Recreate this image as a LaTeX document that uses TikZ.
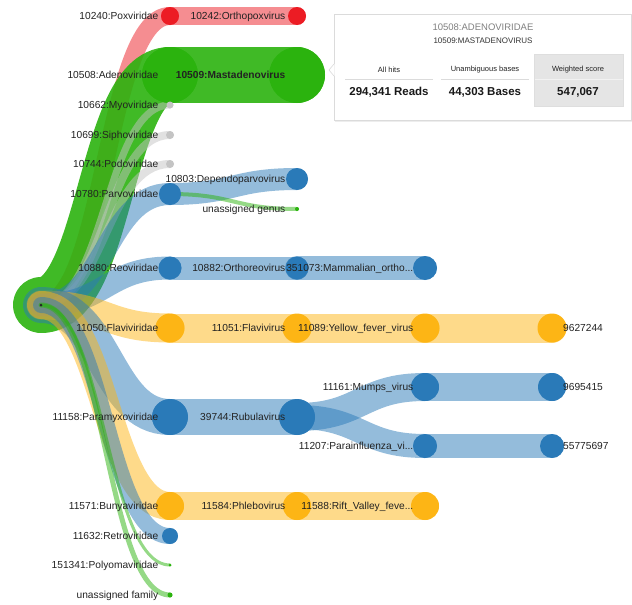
\documentclass[tikz,border=0pt]{standalone}
\usepackage{fontspec}
\setmainfont{Liberation Sans}
\usetikzlibrary{calc}
\pgfdeclarelayer{background}
\pgfsetlayers{background,main}
\definecolor{cred}{HTML}{EC1C24}
\definecolor{cgreen}{HTML}{2BB30E}
\definecolor{cblue}{HTML}{2A7AB8}
\definecolor{corange}{HTML}{FDB515}
\definecolor{cgrey}{HTML}{C4C4C4}
\definecolor{ctxt}{HTML}{222222}
\tikzset{
 dot/.style={circle,inner sep=0pt,draw=none},
 lbl/.style={inner sep=0pt,text=ctxt,font=\fontsize{10.2}{12}\selectfont},
 lk/.style={line cap=round,opacity=0.5,draw=#1},
 hl/.style={line cap=round,opacity=0.9,draw=cgreen},
 diag/.style={to path={let \p1=(\tikztostart),\p2=(\tikztotarget) in
   .. controls ({0.5*\x1+0.5*\x2},\y1) and ({0.5*\x1+0.5*\x2},\y2) .. (\tikztotarget)}},
 tiphead/.style={inner sep=0pt,text=ctxt,font=\fontsize{7.5}{9}\selectfont},
 tipval/.style={inner sep=0pt,text=black!90,font=\fontsize{11.5}{13}\selectfont\bfseries},
}
% name, x, y, radius, colour, label
\newcommand\vn[6]{%
 \node[dot,fill=#5,minimum size=#4*2pt] (#1) at (#2,#3) {};
 \node[lbl,anchor=base east] (#1L) at ([xshift=-11.5pt,yshift=-3.6pt]#1.center) {#6};}
\newcommand\vnR[6]{%
 \node[dot,fill=#5,minimum size=#4*2pt] (#1) at (#2,#3) {};
 \node[lbl,anchor=base west] (#1L) at ([xshift=11pt,yshift=-3.6pt]#1.center) {#6};}
\begin{document}
\begin{tikzpicture}[x=1pt,y=-1pt]
\useasboundingbox (0,0) rectangle (632,605);
% root
\node[dot,fill=black!85,minimum size=3pt] (root) at (41,305) {};
% level 1
\vn{pox}{170}{16}{9}{cred}{10240:Poxviridae}
\vn{adeno}{170}{75}{28}{cgreen}{10508:Adenoviridae}
\vn{myo}{170}{105}{3.5}{cgrey}{10662:Myoviridae}
\vn{sipho}{170}{135}{4}{cgrey}{10699:Siphoviridae}
\vn{podo}{170}{164}{4}{cgrey}{10744:Podoviridae}
\vn{parvo}{170}{194}{11}{cblue}{10780:Parvoviridae}
\vn{reo}{170}{268}{11.5}{cblue}{10880:Reoviridae}
\vn{flavi}{170}{328}{14.5}{corange}{11050:Flaviviridae}
\vn{paramyxo}{170}{417}{18}{cblue}{11158:Paramyxoviridae}
\vn{bunya}{170}{506}{14}{corange}{11571:Bunyaviridae}
\vn{retro}{170}{536}{8}{cblue}{11632:Retroviridae}
\vn{polyoma}{170}{565}{1.5}{cgreen}{151341:Polyomaviridae}
\vn{unfam}{170}{595}{2.5}{cgreen}{unassigned family}
% level 2
\vn{orthopox}{297}{16}{9}{cred}{10242:Orthopoxvirus}
\vn{masta}{297}{75}{28}{cgreen}{\bfseries 10509:Mastadenovirus}
\vn{dependo}{297}{179}{11}{cblue}{10803:Dependoparvovirus}
\vn{ungenus}{297}{209}{2}{cgreen}{unassigned genus}
\vn{orthoreo}{297}{268}{11.5}{cblue}{10882:Orthoreovirus}
\vn{flavivirus}{297}{328}{14.5}{corange}{11051:Flavivirus}
\vn{rubula}{297}{417}{18}{cblue}{39744:Rubulavirus}
\vn{phlebo}{297}{506}{14}{corange}{11584:Phlebovirus}
% level 3
\vn{mammal}{425}{268}{12}{cblue}{351073:Mammalian\_ortho...}
\vn{yfv}{425}{328}{14.5}{corange}{11089:Yellow\_fever\_virus}
\vn{mumps}{425}{387}{14}{cblue}{11161:Mumps\_virus}
\vn{parainf}{425}{446}{12}{cblue}{11207:Parainfluenza\_vi...}
\vn{rift}{425}{506}{14}{corange}{11588:Rift\_Valley\_feve...}
% level 4
\vnR{sa}{552}{328}{14.5}{corange}{9627244}
\vnR{sb}{552}{387}{14}{cblue}{9695415}
\vnR{sc}{552}{446}{12}{cblue}{55775697}
% links
\begin{pgfonlayer}{background}
\draw[lk=cred,line width=18pt] (root.center) to[diag] (pox.center);
\draw[hl,line width=56pt] (root.center) to[diag] (adeno.center);
\draw[lk=cgrey,line width=7pt] (root.center) to[diag] (myo.center);
\draw[lk=cgrey,line width=8pt] (root.center) to[diag] (sipho.center);
\draw[lk=cgrey,line width=8pt] (root.center) to[diag] (podo.center);
\draw[lk=cblue,line width=22pt] (root.center) to[diag] (parvo.center);
\draw[lk=cblue,line width=23pt] (root.center) to[diag] (reo.center);
\draw[lk=corange,line width=29pt] (root.center) to[diag] (flavi.center);
\draw[lk=cblue,line width=36pt] (root.center) to[diag] (paramyxo.center);
\draw[lk=corange,line width=28pt] (root.center) to[diag] (bunya.center);
\draw[lk=cblue,line width=16pt] (root.center) to[diag] (retro.center);
\draw[lk=cgreen,line width=3pt] (root.center) to[diag] (polyoma.center);
\draw[lk=cgreen,line width=5pt] (root.center) to[diag] (unfam.center);
\draw[lk=cred,line width=18pt] (pox.center) to[diag] (orthopox.center);
\draw[hl,line width=56pt] (adeno.center) to[diag] (masta.center);
\draw[lk=cblue,line width=22pt] (parvo.center) to[diag] (dependo.center);
\draw[lk=cgreen,line width=4pt] (parvo.center) to[diag] (ungenus.center);
\draw[lk=cblue,line width=23pt] (reo.center) to[diag] (orthoreo.center);
\draw[lk=corange,line width=29pt] (flavi.center) to[diag] (flavivirus.center);
\draw[lk=cblue,line width=36pt] (paramyxo.center) to[diag] (rubula.center);
\draw[lk=corange,line width=28pt] (bunya.center) to[diag] (phlebo.center);
\draw[lk=cblue,line width=24pt] (orthoreo.center) to[diag] (mammal.center);
\draw[lk=corange,line width=29pt] (flavivirus.center) to[diag] (yfv.center);
\draw[lk=cblue,line width=28pt] (rubula.center) to[diag] (mumps.center);
\draw[lk=cblue,line width=24pt] (rubula.center) to[diag] (parainf.center);
\draw[lk=corange,line width=28pt] (phlebo.center) to[diag] (rift.center);
\draw[lk=corange,line width=29pt] (yfv.center) to[diag] (sa.center);
\draw[lk=cblue,line width=28pt] (mumps.center) to[diag] (sb.center);
\draw[lk=cblue,line width=24pt] (parainf.center) to[diag] (sc.center);
\end{pgfonlayer}
% tooltip
\fill[black!7] (335,15.5) rectangle (632,122);
\node[draw=black!14,fill=white,line width=0.6pt,minimum width=297pt,minimum height=106pt,anchor=north west,inner sep=0pt] (tip) at (334,14) {};
\fill[white] (334.6,64) -- (329,70) -- (334.6,76) -- cycle;
\draw[black!14,line width=0.6pt] (334,64) -- (329,70) -- (334,76);
\node[fill=black!10,draw=black!13,minimum width=89pt,minimum height=52pt,anchor=north west,inner sep=0pt] (wbox) at (534,54) {};
\node[inner sep=0pt,text=black!50,font=\fontsize{9.5}{11}\selectfont] (tt1) at (483,27) {10508:ADENOVIRIDAE};
\node[inner sep=0pt,text=black!80,font=\fontsize{8}{10}\selectfont] (tt2) at (483,41) {10509:MASTADENOVIRUS};
\node[tiphead] (h1) at (389,70) {All hits};
\node[tiphead] (h2) at (485,70) {Unambiguous bases};
\node[tiphead] (h3) at (578,70) {Weighted score};
\draw[black!14] (345,79) -- (433,79);
\draw[black!14] (441,79) -- (529,79);
\draw[black!5] (534.5,79) -- (622.5,79);
\node[tipval] (v1) at (389,92) {294,341 Reads};
\node[tipval] (v2) at (485,92) {44,303 Bases};
\node[tipval] (v3) at (578,92) {547,067};
\end{tikzpicture}
\end{document}
